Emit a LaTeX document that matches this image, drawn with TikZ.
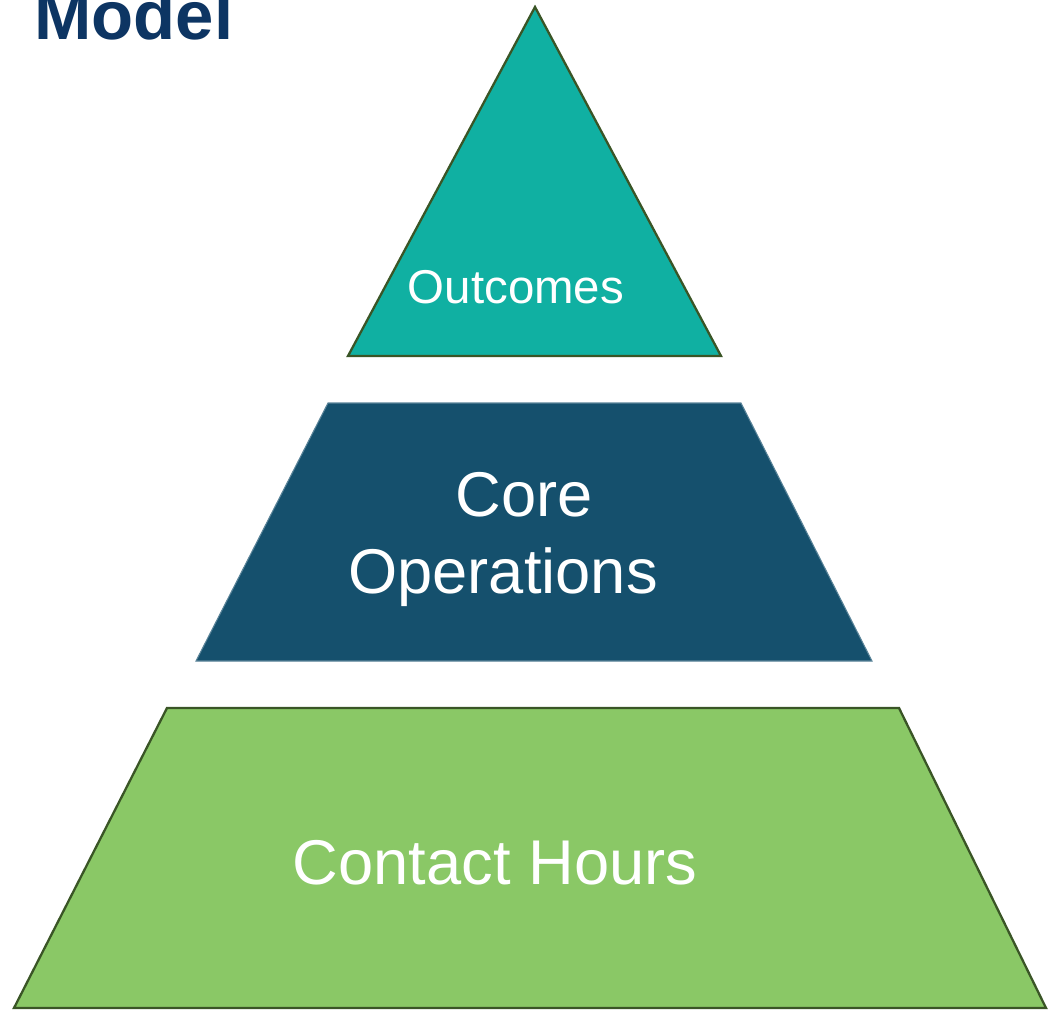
\documentclass[tikz,border=0pt]{standalone}
\usepackage{fontspec}
\setmainfont{Liberation Sans}
\usepackage{xcolor}
\usetikzlibrary{positioning}

\definecolor{tealtop}{HTML}{10B0A2}
\definecolor{bluemid}{HTML}{15506D}
\definecolor{greenlow}{HTML}{8AC866}
\definecolor{edgegreen}{HTML}{3A5526}
\definecolor{titleblue}{HTML}{0D3563}

\tikzset{
  level/.style={line width=1.3pt, line join=miter},
  label/.style={text=white, inner sep=0pt, anchor=base, align=center},
}

\begin{document}
\begin{tikzpicture}[x=0.02cm, y=-0.02cm]
					\useasboundingbox (0,0) rectangle (1048,1010);
					% Title
					\node[inner sep=0pt, anchor=base west, text=titleblue,
					font=\fontsize{39.2}{41}\selectfont\bfseries] (title) at (34,40) {Model};
					% Top block
					\filldraw[level, fill=tealtop, draw=edgegreen]
					(535,7) -- (721,356) -- (348,356) -- cycle;
					\node[label, font=\fontsize{27}{30}\selectfont] (outcomes) at (516,303) {Outcomes};
					% Middle block
					\filldraw[fill=bluemid, draw=bluemid!70!white, line width=0.6pt]
					(328,403) -- (741,403) -- (872,661) -- (196,661) -- cycle;
					\node[label, font=\fontsize{36}{43.5}\selectfont] (core) at (524,516) {Core};
					\node[label, font=\fontsize{36}{43.5}\selectfont] (operations) at (503,593) {Operations};
					% Bottom block
					\filldraw[level, fill=greenlow, draw=edgegreen]
					(167,708) -- (899,708) -- (1046,1008) -- (14,1008) -- cycle;
					\node[label, font=\fontsize{36}{43.5}\selectfont] (contact) at (495,884) {Contact Hours};
\end{tikzpicture}
\end{document}
